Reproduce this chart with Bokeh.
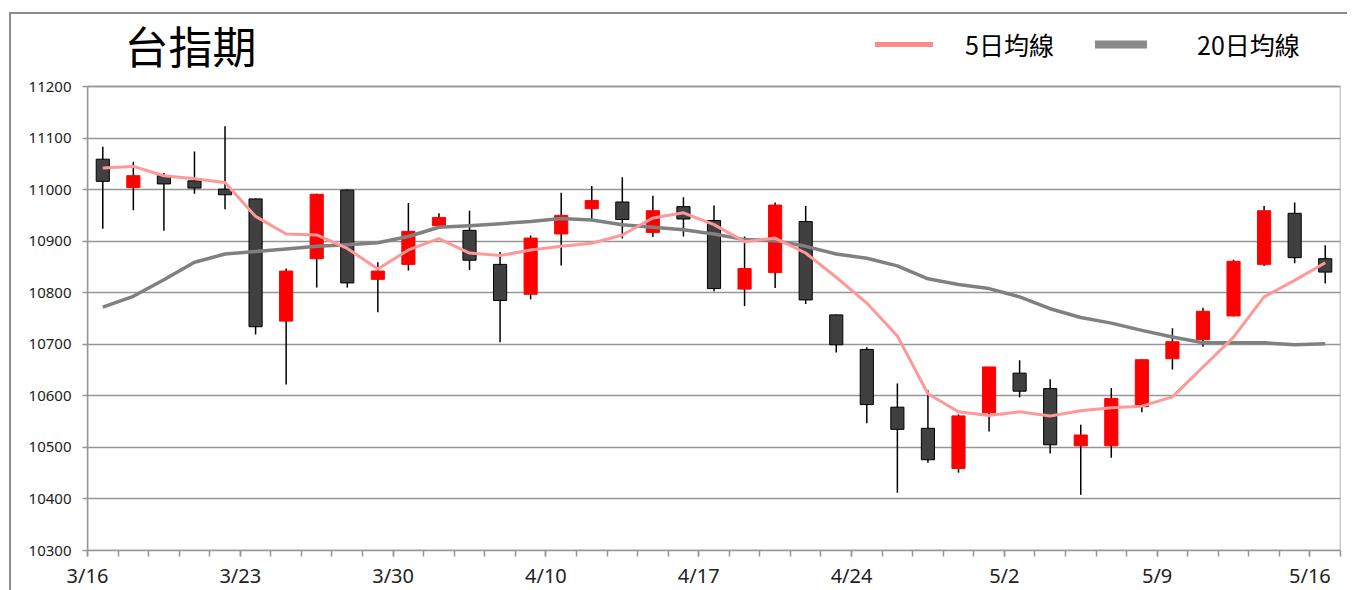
from bokeh.plotting import figure
from bokeh.models import FixedTicker, Legend, LegendItem, Range1d, BoxAnnotation, Label
from bokeh.embed import file_html
from bokeh.resources import INLINE

title_text = "台指期"
legend_labels = ["5日均線", "20日均線"]
tick_labels = ["3/16", "3/23", "3/30", "4/10", "4/17", "4/24", "5/2", "5/9", "5/16"]

open_ = [11059, 11004, 11027, 11017, 11001, 10982, 10745, 10866, 10999, 10826,
         10855, 10930, 10921, 10855, 10797, 10914, 10963, 10976, 10917, 10967,
         10940, 10807, 10839, 10938, 10757, 10690, 10578, 10537, 10459, 10567,
         10644, 10614, 10503, 10503, 10579, 10672, 10709, 10755, 10855, 10954,
         10866]
high = [11083, 11054, 11032, 11074, 11123, 10983, 10847, 10992, 11000, 10859,
        10974, 10954, 10959, 10879, 10911, 10994, 11007, 11024, 10988, 10985,
        10969, 10909, 10975, 10968, 10758, 10694, 10624, 10611, 10564, 10656,
        10669, 10632, 10544, 10615, 10671, 10731, 10771, 10864, 10968, 10975,
        10892]
low = [10924, 10960, 10920, 10992, 10962, 10719, 10622, 10810, 10810, 10762,
       10843, 10930, 10844, 10704, 10787, 10853, 10940, 10905, 10908, 10909,
       10803, 10774, 10809, 10778, 10684, 10547, 10412, 10470, 10451, 10531,
       10597, 10488, 10408, 10480, 10568, 10651, 10695, 10754, 10852, 10857,
       10818]
close = [11016, 11027, 11011, 11003, 10990, 10734, 10842, 10991, 10819, 10842,
         10919, 10946, 10863, 10785, 10906, 10950, 10979, 10942, 10959, 10943,
         10808, 10847, 10970, 10786, 10699, 10583, 10535, 10476, 10561, 10656,
         10609, 10505, 10524, 10595, 10670, 10705, 10764, 10861, 10959, 10868,
         10840]
ma5 = [11042, 11045, 11027, 11021, 11014, 10948, 10914, 10912, 10886, 10846,
       10883, 10905, 10877, 10872, 10883, 10890, 10896, 10912, 10945, 10955,
       10932, 10899, 10906, 10877, 10830, 10780, 10716, 10604, 10569, 10562,
       10569, 10561, 10571, 10577, 10580, 10598, 10656, 10714, 10792, 10824,
       10858]
ma20 = [10772, 10793, 10825, 10859, 10875, 10880, 10885, 10890, 10893, 10897,
        10909, 10927, 10930, 10934, 10938, 10944, 10941, 10932, 10927, 10922,
        10914, 10903, 10901, 10890, 10875, 10867, 10852, 10827, 10816, 10808,
        10792, 10769, 10752, 10741, 10727, 10714, 10703, 10703, 10703, 10699,
        10701]

y_min, y_max = 10300, 11200
y_ticks = list(range(y_min, y_max + 1, 100))

n = len(close)
xs = [i + 0.5 for i in range(n)]
tops = [max(o, c) for o, c in zip(open_, close)]
bottoms = [min(o, c) for o, c in zip(open_, close)]
fills = ["#FF0000" if c > o else "#404040" for o, c in zip(open_, close)]
lines = ["#FF0000" if c > o else "#000000" for o, c in zip(open_, close)]

FONT = "Noto Sans CJK TC"
GRID = "#969696"

# layout in pixels: plot box 1253 x 464, header band of 72 px above it
FW, PH, HEAD = 1253, 464, 72
px_y = (y_max - y_min) / PH
px_x = n / FW

p = figure(frame_width=FW, frame_height=PH + HEAD, output_backend="svg", toolbar_location=None,
           x_range=Range1d(0, n), y_range=Range1d(y_min, y_max + HEAD * px_y),
           min_border_left=76, min_border_right=7, min_border_top=0,
           min_border_bottom=20, margin=(12, 0, 0, 9))
p.styles = {"border-top": "2px solid #8c8c8c", "border-left": "2px solid #8c8c8c"}

p.outline_line_color = None
p.xgrid.visible = False
p.ygrid.grid_line_color = GRID
p.ygrid.grid_line_width = 1.5
p.ygrid.ticker = FixedTicker(ticks=y_ticks)

p.add_layout(BoxAnnotation(left=0, right=n, bottom=y_min, top=y_max, fill_alpha=0,
                           line_color=GRID, line_width=1.5, line_alpha=1))

p.yaxis.ticker = FixedTicker(ticks=y_ticks)
p.yaxis.bounds = (y_min, y_max)
p.yaxis.axis_line_color = GRID
p.yaxis.axis_line_width = 1.5
p.yaxis.major_tick_line_color = GRID
p.yaxis.major_tick_line_width = 1.5
p.yaxis.major_tick_out = 5
p.yaxis.major_tick_in = 0
p.yaxis.minor_tick_line_color = None
p.yaxis.major_label_text_font = "Noto Sans"
p.yaxis.major_label_text_font_size = "15px"
p.yaxis.major_label_text_color = "#222222"
p.yaxis.major_label_standoff = 11

p.xaxis.ticker = FixedTicker(ticks=list(range(0, n, 5)), minor_ticks=list(range(0, n + 1)))
p.xaxis.major_label_overrides = {i * 5: lab for i, lab in enumerate(tick_labels)}
p.xaxis.axis_line_color = GRID
p.xaxis.axis_line_width = 1.5
p.xaxis.major_tick_line_color = GRID
p.xaxis.major_tick_line_width = 1.5
p.xaxis.minor_tick_line_color = GRID
p.xaxis.minor_tick_line_width = 1.5
p.xaxis.major_tick_out = 6
p.xaxis.major_tick_in = 0
p.xaxis.minor_tick_out = 6
p.xaxis.minor_tick_in = 0
p.xaxis.major_label_text_font = "Noto Sans"
p.xaxis.major_label_text_font_size = "20px"
p.xaxis.major_label_text_color = "#222222"
p.xaxis.major_label_standoff = 5

p.segment(xs, high, xs, low, line_color="#000000", line_width=1.5)
p.vbar(x=xs, width=0.43, top=tops, bottom=bottoms, fill_color=fills, line_color=lines, line_width=1)

p.line(xs, ma20, line_color="#808080", line_width=3.5, line_join="round")
p.line(xs, ma5, line_color="#FF9999", line_width=3, line_join="round")

# title in the header band
p.add_layout(Label(x=37 * px_x, y=y_max + 42 * px_y, text=title_text,
                   text_font=FONT, text_font_size="44px", text_color="#000000",
                   text_align="left", text_baseline="middle"))

# legend sample renderers (no visible points)
nan = float("nan")
s5 = p.line([nan], [nan], line_color="#FF8C8C", line_width=5, line_cap="round")
s20 = p.line([nan], [nan], line_color="#8A8A8A", line_width=8, line_cap="round")

for rend, lab, gw, st, lx in [(s5, legend_labels[0], 58, 32, 788), (s20, legend_labels[1], 52, 50, 1008)]:
    lg = Legend(items=[LegendItem(label=lab, renderers=[rend])], location=(lx, PH + HEAD - 48),
                glyph_width=gw, glyph_height=30, label_height=30, label_standoff=st,
                padding=0, margin=0, border_line_color=None, background_fill_alpha=0,
                label_text_font=FONT, label_text_font_size="25px", label_text_color="#000000")
    p.add_layout(lg)

open("out.html", "w").write(file_html(p, INLINE))
